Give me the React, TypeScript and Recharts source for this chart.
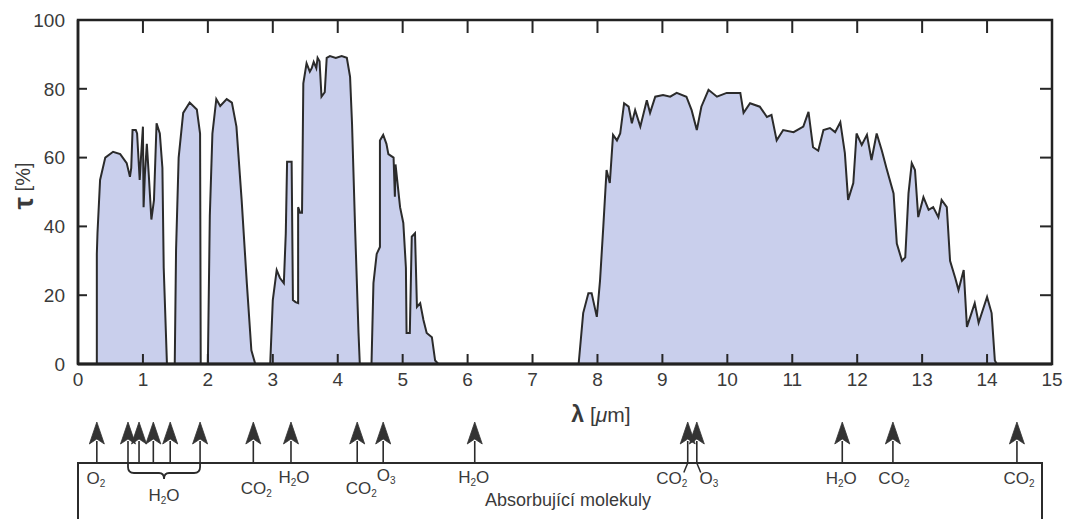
import React from 'react';
import {
  ComposedChart,
  Area,
  XAxis,
  YAxis,
  ReferenceLine,
  ReferenceArea,
  Scatter,
} from 'recharts';

// ---- data ----
const WAVELENGTH_UM = [
  0, 0.29, 0.29, 0.3, 0.34, 0.42, 0.54, 0.65, 0.75, 0.8, 0.82, 0.84, 0.89, 0.91, 0.95, 0.97, 1.0, 1.01, 1.03, 1.06, 1.09, 1.13, 1.17, 1.21, 1.26, 1.3, 1.32, 1.37,
  1.49, 1.51, 1.55, 1.62, 1.72, 1.83, 1.88, 1.89,
  2.0, 2.03, 2.07, 2.13, 2.19, 2.29, 2.37, 2.44, 2.52, 2.6, 2.67, 2.73,
  2.96, 3.0, 3.06, 3.11, 3.17, 3.2, 3.22, 3.29, 3.31, 3.35, 3.39, 3.39, 3.42, 3.45, 3.47, 3.52, 3.57, 3.6, 3.63, 3.67, 3.69, 3.72, 3.75, 3.8, 3.83, 3.88, 3.97, 4.06, 4.14, 4.19, 4.22, 4.27, 4.32, 4.34,
  4.52, 4.55, 4.6, 4.65, 4.65, 4.7, 4.75, 4.78, 4.86, 4.88, 4.89, 4.96, 5.01, 5.05, 5.06, 5.11, 5.14, 5.19, 5.22, 5.27, 5.32, 5.37, 5.45, 5.5, 5.55,
  7.71, 7.78, 7.86, 7.91, 7.99, 8.04, 8.09, 8.14, 8.19, 8.24, 8.3, 8.35, 8.41, 8.48, 8.53, 8.58, 8.66, 8.76, 8.81, 8.89, 9.01, 9.12, 9.22, 9.37, 9.45, 9.53, 9.6, 9.71, 9.84, 9.99,
  10.2, 10.25, 10.35, 10.5, 10.61, 10.68, 10.76, 10.86, 11.02, 11.17, 11.25, 11.32, 11.4, 11.48, 11.58, 11.66, 11.74, 11.81, 11.86, 11.94, 11.99,
  12.07, 12.15, 12.22, 12.3, 12.38, 12.45, 12.56, 12.61, 12.69, 12.74, 12.79, 12.84, 12.89, 12.94, 13.02, 13.1, 13.17, 13.25, 13.3, 13.38, 13.43, 13.51, 13.56, 13.64, 13.69, 13.76, 13.81, 13.87, 14.0, 14.07, 14.12, 14.15, 15,
];

const TRANSMITTANCE_PCT = [
  0, 0, 32, 38, 53.5, 60, 61.7, 61, 58.4, 54.4, 57, 68, 68, 67, 53.5, 60, 69, 45.6, 55, 64, 55, 42, 47.6, 70, 67, 57, 28, 0,
  0, 33, 60, 73, 76, 74, 67, 0,
  0, 43, 67, 77, 75, 77, 76, 69, 47.7, 23.5, 4, 0,
  0, 18.6, 27.3, 25, 23.5, 38, 58.8, 58.8, 18.6, 18, 17.7, 45.6, 44, 44, 81.6, 87.4, 85, 86, 87.8, 86, 89, 88, 77.7, 79, 89, 89.5, 89, 89.5, 89, 83.5, 70, 38, 9, 0,
  0, 23.5, 32, 34, 65, 66.6, 64, 61, 60, 48.6, 58, 45.6, 41, 28, 9, 9, 37, 38, 16.6, 17.7, 12.8, 9, 7.8, 1, 0,
  0, 14.8, 20.6, 20.6, 13.7, 24.4, 40, 56.4, 52.6, 66.6, 65, 67, 75.8, 74.8, 70, 73.8, 69, 76.7, 73, 77.7, 78.2, 77.7, 78.8, 77.7, 73.8, 68, 74.8, 79.7, 77.7, 78.8,
  78.8, 73, 75.8, 74.8, 71.8, 72.4, 65, 68, 67.4, 69, 73.3, 63, 62, 68, 68.6, 67.4, 70.3, 61.3, 47.7, 52.6, 67,
  63.7, 66.6, 59.3, 67, 62, 57, 49.6, 35, 30, 31, 49.6, 58.4, 56.4, 42.7, 48.5, 44.8, 45.6, 42.7, 47.7, 45.6, 30, 25, 21.5, 27.3, 10.8, 14.8, 17.7, 12, 19.5, 14.8, 1, 0, 0,
];

const X_TICKS = [0, 1, 2, 3, 4, 5, 6, 7, 8, 9, 10, 11, 12, 13, 14, 15];
const Y_TICKS = [0, 20, 40, 60, 80, 100];
const INNER_X_TICKS = [1, 2, 3, 4, 5, 6, 7, 8, 9, 10, 11, 12, 13, 14];
const INNER_Y_TICKS = [20, 40, 60, 80];

const ABSORPTION_UM = [0.29, 0.77, 0.94, 1.16, 1.42, 1.88, 2.7, 3.28, 4.3, 4.7, 6.11, 9.39, 9.53, 11.77, 12.55, 14.46];
const MOLECULE_NAMES = ['O2', 'H2O', 'CO2', 'H2O', 'CO2', 'O3', 'H2O', 'CO2', 'O3', 'H2O', 'CO2', 'CO2'];
const MOLECULE_UM = [0.29, 1.325, 2.7, 3.28, 4.3, 4.7, 6.11, 9.39, 9.53, 11.77, 12.55, 14.46];
const H2O_GROUP_UM = [0.77, 1.88];
const SPLIT_TAILS_UM = [
  [9.39, 9.33],
  [9.53, 9.59],
];

// ---- layout / style (not data) ----
const LABEL_OFFSETS = [
  [-1, 15], [0, 32], [3, 25], [3, 14], [4, 25], [3, 12], [-1, 14], [-16, 15], [12, 15], [-1, 15], [1, 15], [2, 15],
];
const FONT = '"Liberation Sans", Arial, Helvetica, sans-serif';
const INK = '#2b2b2b';
const TEXT = '#3a3a3a';
const TICK_INK = '#262626';

const spectrum = WAVELENGTH_UM.map((wl, i) => ({ wl, t: TRANSMITTANCE_PCT[i] }));
const bottomTickData = INNER_X_TICKS.map((wl) => ({ wl, t: Y_TICKS[0] }));
const topTickData = INNER_X_TICKS.map((wl) => ({ wl, t: Y_TICKS[Y_TICKS.length - 1] }));
const arrowData = ABSORPTION_UM.map((wl) => ({ wl, y: 1 }));
const labelData = MOLECULE_UM.map((wl, i) => ({ wl, y: 1, name: MOLECULE_NAMES[i], idx: i }));

const renderXTitle = (props: any) => {
  const vb = props && props.viewBox ? props.viewBox : { x: 78, y: 364, width: 974, height: 60 };
  const cx = vb.x + vb.width / 2 + 36;
  const cy = vb.y + 51;
  return (
    <text x={cx} y={cy + 7} textAnchor="middle" fontFamily={FONT} fontSize={21} fill={TEXT}>
      <tspan fontWeight="bold" fontSize={23}>λ</tspan>
      <tspan> [</tspan>
      <tspan fontStyle="italic">μ</tspan>
      <tspan>m]</tspan>
    </text>
  );
};

const renderYTitle = (props: any) => {
  const vb = props && props.viewBox ? props.viewBox : { x: 18, y: 20, width: 60, height: 344 };
  const cx = vb.x + 5;
  const cy = vb.y + vb.height / 2 - 6;
  return (
    <text
      x={cx}
      y={cy}
      transform={`rotate(-90, ${cx}, ${cy})`}
      textAnchor="middle"
      dominantBaseline="central"
      fontFamily={FONT}
      fontSize={20}
      fill={TEXT}
    >
      <tspan fontWeight="bold" fontSize={28}>τ</tspan>
      <tspan> [%]</tspan>
    </text>
  );
};

const BottomTick = (props: any) => {
  const { cx, cy } = props;
  if (cx == null || cy == null) return <g />;
  return <line x1={cx} y1={cy} x2={cx} y2={cy - 10} stroke={TICK_INK} strokeWidth={2} />;
};

const TopTick = (props: any) => {
  const { cx, cy } = props;
  if (cx == null || cy == null) return <g />;
  return <line x1={cx} y1={cy} x2={cx} y2={cy + 13} stroke={TICK_INK} strokeWidth={2} />;
};

const HTicks = (props: any) => {
  const { x1, y1, x2 } = props;
  if ([x1, y1, x2].some((v) => v == null || isNaN(v))) return <g />;
  const left = Math.min(x1, x2);
  const right = Math.max(x1, x2);
  return (
    <g>
      <line x1={left} y1={y1} x2={left + 9} y2={y1} stroke={TICK_INK} strokeWidth={2} />
      <line x1={right} y1={y1} x2={right - 12} y2={y1} stroke={TICK_INK} strokeWidth={2} />
    </g>
  );
};

const Arrow = (props: any) => {
  const { cx, cy } = props;
  if (cx == null || cy == null) return <g />;
  return (
    <g>
      <line x1={cx} y1={cy} x2={cx} y2={cy - 22} stroke={INK} strokeWidth={1.6} />
      <path
        d={`M ${cx} ${cy - 41} L ${cx + 7.5} ${cy - 19} L ${cx} ${cy - 24} L ${cx - 7.5} ${cy - 19} Z`}
        fill="#333"
        stroke="#333"
        strokeWidth={0.8}
      />
    </g>
  );
};

const MoleculeLabel = (props: any) => {
  const { cx, cy, payload } = props;
  if (cx == null || cy == null || !payload) return <g />;
  const [dx, dy] = LABEL_OFFSETS[payload.idx] || [0, 15];
  const name: string = payload.name;
  const parts = name.split('');
  const x = cx + dx;
  const y = cy + dy + 6;
  let shifted = false;
  return (
    <text x={x} y={y} textAnchor="middle" fontFamily={FONT} fontSize={17} fill={TEXT}>
      {parts.map((ch, i) => {
        const isDigit = /[0-9]/.test(ch);
        if (isDigit) {
          shifted = true;
          return (
            <tspan key={i} fontSize={10} dy={3}>
              {ch}
            </tspan>
          );
        }
        if (shifted) {
          shifted = false;
          return (
            <tspan key={i} dy={-3}>
              {ch}
            </tspan>
          );
        }
        return <tspan key={i}>{ch}</tspan>;
      })}
    </text>
  );
};

const Brace = (props: any) => {
  const { x1, y1, x2 } = props;
  if (x1 == null || y1 == null || x2 == null) return <g />;
  const mid = (x1 + x2) / 2;
  const h = y1 + 10;
  const d = `M ${x1} ${y1} L ${x1} ${y1 + 4} Q ${x1} ${h} ${x1 + 6} ${h} L ${mid - 5} ${h} Q ${mid} ${h} ${mid} ${h + 6} Q ${mid} ${h} ${mid + 5} ${h} L ${x2 - 6} ${h} Q ${x2} ${h} ${x2} ${y1 + 4} L ${x2} ${y1}`;
  return <path d={d} fill="none" stroke={INK} strokeWidth={1.8} />;
};

function MainChart() {
  return (
    <ComposedChart
      width={1072}
      height={519}
      data={spectrum}
      margin={{ top: 20, right: 20, bottom: 95, left: 18 }}
    >
      <XAxis
        dataKey="wl"
        type="number"
        domain={[0, 15]}
        ticks={X_TICKS}
        interval={0}
        axisLine={{ stroke: '#222', strokeWidth: 3 }}
        tickLine={false}
        tickSize={6}
        tickMargin={3}
        height={60}
        tick={{ fontSize: 19, fill: TEXT, fontFamily: FONT }}
        label={renderXTitle}
      />
      <YAxis
        type="number"
        domain={[0, 100]}
        ticks={Y_TICKS}
        interval={0}
        width={60}
        axisLine={{ stroke: '#222', strokeWidth: 2.5 }}
        tickLine={false}
        tickSize={6}
        tickMargin={7}
        tick={{ fontSize: 19, fill: TEXT, fontFamily: FONT }}
        label={renderYTitle}
      />
      <Area
        type="linear"
        dataKey="t"
        stroke={INK}
        strokeWidth={2}
        fill="#c9cfec"
        fillOpacity={1}
        isAnimationActive={false}
        dot={false}
        activeDot={false}
      />
      <ReferenceArea
        x1={0}
        x2={15}
        y1={0}
        y2={100}
        fill="none"
        fillOpacity={0}
        stroke="#222"
        strokeWidth={2.5}
        ifOverflow="visible"
      />
      <Scatter
        data={bottomTickData}
        dataKey="t"
        shape={(p: any) => <BottomTick {...p} />}
        isAnimationActive={false}
      />
      <Scatter
        data={topTickData}
        dataKey="t"
        shape={(p: any) => <TopTick {...p} />}
        isAnimationActive={false}
      />
      {INNER_Y_TICKS.map((v) => (
        <ReferenceLine
          key={`y${v}`}
          y={v}
          ifOverflow="visible"
          shape={(p: any) => <HTicks {...p} />}
        />
      ))}
    </ComposedChart>
  );
}

function MoleculeChart() {
  return (
    <ComposedChart width={1072} height={139} margin={{ top: 83, right: 20, bottom: 0, left: 78 }}>
      <XAxis dataKey="wl" type="number" domain={[0, 15]} hide />
      <YAxis dataKey="y" type="number" domain={[0, 1]} hide />
      <Scatter data={arrowData} dataKey="y" shape={(p: any) => <Arrow {...p} />} isAnimationActive={false} />
      <Scatter data={labelData} dataKey="y" shape={(p: any) => <MoleculeLabel {...p} />} isAnimationActive={false} />
      <ReferenceLine
        segment={[{ x: H2O_GROUP_UM[0], y: 1 }, { x: H2O_GROUP_UM[1], y: 1 }]}
        shape={(p: any) => <Brace {...p} />}
        ifOverflow="visible"
      />
      {SPLIT_TAILS_UM.map(([a, b], i) => (
        <ReferenceLine
          key={`tail${i}`}
          segment={[{ x: a, y: 1 }, { x: b, y: 0.83 }]}
          stroke={INK}
          strokeWidth={1.5}
          ifOverflow="visible"
        />
      ))}
    </ComposedChart>
  );
}

export default function App() {
  return (
    <div
      style={{
        position: 'fixed',
        left: 0,
        top: 0,
        width: 1072,
        height: 519,
        overflow: 'hidden',
        background: '#fff',
      }}
    >
      <div style={{ position: 'absolute', left: 0, top: 0 }}>
        <MainChart />
      </div>
      <div
        style={{
          position: 'absolute',
          left: 77,
          top: 462,
          width: 966,
          height: 120,
          border: '2.5px solid #2b2b2b',
          boxSizing: 'border-box',
        }}
      />
      <div
        style={{
          position: 'absolute',
          left: 368,
          top: 490,
          width: 400,
          textAlign: 'center',
          fontFamily: FONT,
          fontSize: 18,
          lineHeight: '20px',
          color: TEXT,
        }}
      >
        Absorbující molekuly
      </div>
      <div style={{ position: 'absolute', left: 0, top: 380 }}>
        <MoleculeChart />
      </div>
    </div>
  );
}
